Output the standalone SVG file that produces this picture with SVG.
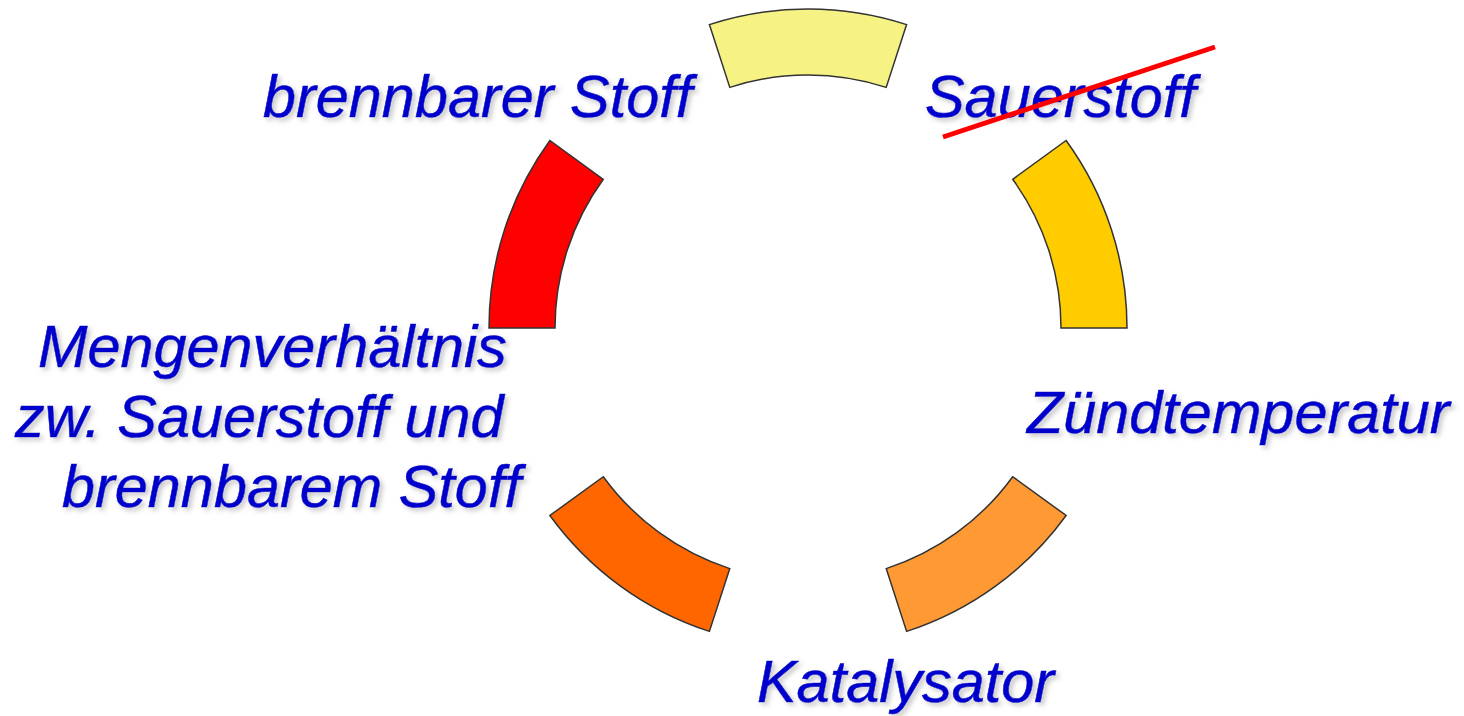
<svg xmlns="http://www.w3.org/2000/svg" width="1464" height="716" viewBox="0 0 1464 716">
<defs>
<filter id="sh" x="-10%" y="-30%" width="120%" height="160%">
<feDropShadow dx="3" dy="3" stdDeviation="2.5" flood-color="#999" flood-opacity="0.55"/>
</filter>
</defs>
<style>
.seg{stroke:#333;stroke-width:1.5}
.lbl{font-family:"Liberation Sans",Arial,sans-serif;font-style:italic;font-size:59.4px;fill:#0000CC;stroke:#0000CC;stroke-width:0.6;filter:url(#sh)}
</style>
<rect width="1464" height="716" fill="#fff"/>
<g id="seg-right">
<path class="seg" fill="#FFCC00" d="M1127,328 A319,319 0 0 0 1066.1,140.5 L1012.7,179.3 A253,253 0 0 1 1061,328 Z"/>
</g>
<g id="seg-top">
<path class="seg" fill="#F6F283" d="M906.6,24.6 A319,319 0 0 0 709.4,24.6 L729.8,87.4 A253,253 0 0 1 886.2,87.4 Z"/>
</g>
<g id="seg-left">
<path class="seg" fill="#FF0000" d="M549.9,140.5 A319,319 0 0 0 489,328 L555,328 A253,253 0 0 1 603.3,179.3 Z"/>
</g>
<g id="seg-bottom-left">
<path class="seg" fill="#FF6600" d="M549.9,515.5 A319,319 0 0 0 709.4,631.4 L729.8,568.6 A253,253 0 0 1 603.3,476.7 Z"/>
</g>
<g id="seg-bottom-right">
<path class="seg" fill="#FF9933" d="M906.6,631.4 A319,319 0 0 0 1066.1,515.5 L1012.7,476.7 A253,253 0 0 1 886.2,568.6 Z"/>
</g>
<g id="label-brennbar"><text class="lbl" x="263" y="117">brennbarer Stoff</text></g>
<g id="label-sauerstoff"><text class="lbl" x="925" y="117">Sauerstoff</text></g>
<g id="label-zuend"><text class="lbl" x="1027" y="433">Zündtemperatur</text></g>
<g id="label-kat"><text class="lbl" x="757" y="702">Katalysator</text></g>
<g id="label-menge">
<text class="lbl" x="38" y="367">Mengenverhältnis</text>
<text class="lbl" x="15" y="437">zw. Sauerstoff und</text>
<text class="lbl" x="62" y="507">brennbarem Stoff</text>
</g>
<g id="connectors">
<line x1="943" y1="137" x2="1215" y2="47" stroke="#FF0000" stroke-width="5"/>
</g>
</svg>
